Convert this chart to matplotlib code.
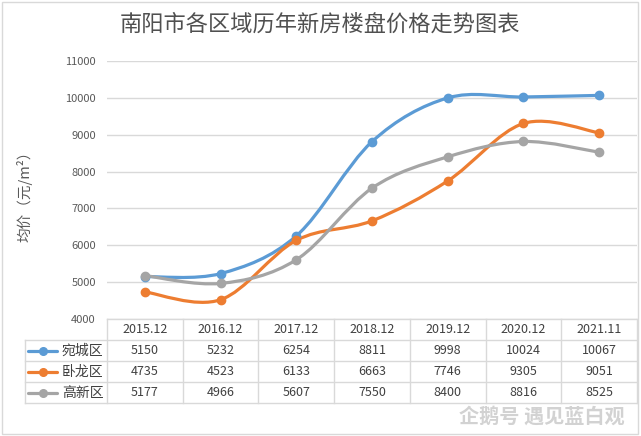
import numpy as np
import matplotlib

matplotlib.use("Agg")
import matplotlib.pyplot as plt
from matplotlib.path import Path
from matplotlib.patches import PathPatch, Rectangle

plt.rcParams["font.family"] = ["Noto Sans CJK SC", "DejaVu Sans"]

# data
periods = ["2015.12", "2016.12", "2017.12", "2018.12", "2019.12", "2020.12", "2021.11"]
wancheng = [5150, 5232, 6254, 8811, 9998, 10024, 10067]
wolong = [4735, 4523, 6133, 6663, 7746, 9305, 9051]
gaoxin = [5177, 4966, 5607, 7550, 8400, 8816, 8525]
series_names = ["宛城区", "卧龙区", "高新区"]
series_colors = ["#5B9BD5", "#ED7D31", "#A5A5A5"]
y_ticks = [4000, 5000, 6000, 7000, 8000, 9000, 10000, 11000]

W, H = 641, 436
fig = plt.figure(figsize=(W / 100, H / 100), dpi=100)

# pixel overlay for frame and table
ov = fig.add_axes([0, 0, 1, 1])
ov.set_xlim(0, W)
ov.set_ylim(H, 0)
ov.axis("off")

grid_c = "#D9D9D9"
ov.add_patch(Rectangle((2, 2), 636, 432, fill=False, edgecolor=grid_c, lw=1))

# plot area in pixels
pl, pr, pt, pb = 107, 637, 61, 319
ax = fig.add_axes([pl / W, 1 - pb / H, (pr - pl) / W, (pb - pt) / H])
ax.set_xlim(-0.5, len(periods) - 0.5)
ax.set_ylim(4000, 11000)
ax.set_yticks(y_ticks)
ax.set_yticklabels([str(v) for v in y_ticks], fontsize=8, color="#595959")
ax.tick_params(axis="y", length=0, pad=8)
ax.set_xticks([])
for s in ax.spines.values():
    s.set_visible(False)
ax.grid(axis="y", color=grid_c, lw=1)
ax.set_axisbelow(True)
ax.patch.set_alpha(0)


def smooth_path(xs, ys):
    # excel style smoothed line: bezier with catmull-rom control points
    pts = np.column_stack([xs, ys]).astype(float)
    ext = np.vstack([pts[0], pts, pts[-1]])
    verts = [pts[0]]
    codes = [Path.MOVETO]
    for i in range(1, len(ext) - 2):
        p0, p1, p2, p3 = ext[i - 1], ext[i], ext[i + 1], ext[i + 2]
        verts += [p1 + (p2 - p0) / 6, p2 - (p3 - p1) / 6, p2]
        codes += [Path.CURVE4] * 3
    return Path(verts, codes)


xs = np.arange(len(periods))
for vals, col in zip([wancheng, wolong, gaoxin], series_colors):
    ax.add_patch(PathPatch(smooth_path(xs, vals), facecolor="none",
                           edgecolor=col, lw=2.3, capstyle="round"))
    ax.plot(xs, vals, "o", color=col, markersize=6, zorder=3)

# title and y label
ov.text(320, 24, "南阳市各区域历年新房楼盘价格走势图表",
        ha="center", va="center", fontsize=16, color="#505050")
ov.text(24, 193, "均价（元/m²）", rotation=90,
        ha="center", va="center", fontsize=10.5, color="#595959")

# data table
col_w = (pr - pl) / len(periods)
row_y = [319, 340, 361, 382, 403]
leg_x = 25
ov.plot([pl, pr], [row_y[0], row_y[0]], color=grid_c, lw=1)
for y in row_y[1:]:
    ov.plot([leg_x, pr], [y, y], color=grid_c, lw=1)
ov.plot([leg_x, leg_x], [row_y[1], row_y[-1]], color=grid_c, lw=1)
for i in range(len(periods) + 1):
    x = pl + i * col_w
    ov.plot([x, x], [row_y[0], row_y[-1]], color=grid_c, lw=1)

txt_c = "#404040"
for i, p in enumerate(periods):
    cx = pl + (i + 0.5) * col_w
    ov.text(cx, (row_y[0] + row_y[1]) / 2, p, ha="center", va="center",
            fontsize=9, color=txt_c)

for r, (name, vals, col) in enumerate(zip(series_names, [wancheng, wolong, gaoxin],
                                          series_colors)):
    cy = (row_y[r + 1] + row_y[r + 2]) / 2
    ov.plot([28, 57], [cy, cy], color=col, lw=2.3, solid_capstyle="round")
    ov.plot([42.5], [cy], "o", color=col, markersize=5.5)
    ov.text(62, cy, name, ha="left", va="center", fontsize=10, color=txt_c)
    for i, v in enumerate(vals):
        cx = pl + (i + 0.5) * col_w
        ov.text(cx, cy, str(v), ha="center", va="center", fontsize=9, color=txt_c)

# watermark
ov.text(625, 416, "企鹅号 遇见蓝白观", ha="right", va="center", fontsize=14.5,
        fontweight="bold", color="#D2D2D2")

fig.savefig("out.png", dpi=100)
